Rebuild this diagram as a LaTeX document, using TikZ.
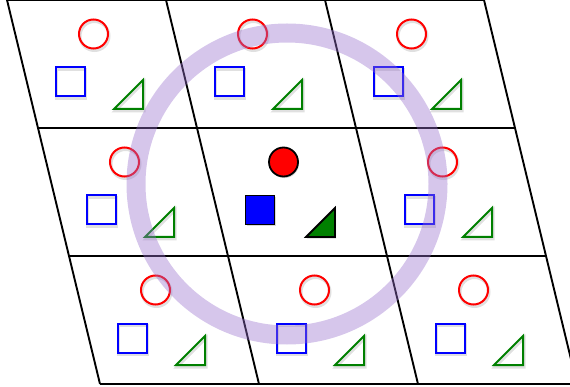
\documentclass[tikz,border=0pt]{standalone}
\usetikzlibrary{shadows}
\definecolor{ringviolet}{RGB}{152,112,205}
\definecolor{darkgreen}{RGB}{0,128,0}
\tikzset{
  cellline/.style={line width=1.9pt, black},
  hollow/.style={line width=2pt, fill=none},
  ghost/.style={draw=black, opacity=0.12, line width=3pt},
  filledshape/.style={draw=black, line width=1.8pt,
    drop shadow={shadow xshift=1pt, shadow yshift=-1.6pt, opacity=0.3}},
  dot/.style={circle, inner sep=0pt, minimum size=29pt},
  box/.style={rectangle, inner sep=0pt, minimum size=29pt},
}

\begin{document}
\begin{tikzpicture}[x=1pt,y=-1pt]
  \clip (0,0) rectangle (570,387);
  % lattice of sheared cells
  \foreach \j in {0,...,3} \draw[cellline] ({7+31*\j},{128*\j}) -- ++(477,0);
  \foreach \i in {0,...,3} \draw[cellline] ({7+159*\i},0) -- ++(93,384);
  % open motifs in the outer cells
  \foreach \i/\j in {0/0,1/0,2/0,0/1,2/1,0/2,1/2,2/2}{
    \begin{scope}[shift={({7+159*\i+31*\j},{128*\j})}]
      \draw[ghost] (87.5,36) circle[radius=14.5pt];
      \draw[ghost] (49.5,69.5) rectangle ++(29,29);
      \draw[ghost] (108,111) -- (137,111) -- (137,82) -- cycle;
      \node[dot, draw=red, hollow] (circ\i\j) at (86.5,34) {};
      \node[box, draw=blue, hollow] (sq\i\j) at (63,82) {};
      \draw[darkgreen, hollow] (107,109) -- (136,109) -- (136,80) -- cycle;
    \end{scope}
  }
  % filled motif in the centre cell
  \begin{scope}[shift={(197,128)}]
    \node[dot, fill=red, filledshape] (circ11) at (86.5,34) {};
    \node[box, fill=blue, filledshape] (sq11) at (63,82) {};
    \filldraw[fill=darkgreen, filledshape] (109,109) -- (138,109) -- (138,80) -- cycle;
  \end{scope}
  % neighbourhood ring
  \draw[ringviolet, opacity=0.4, line width=19pt] (287,184) circle[radius=151pt];
\end{tikzpicture}
\end{document}
